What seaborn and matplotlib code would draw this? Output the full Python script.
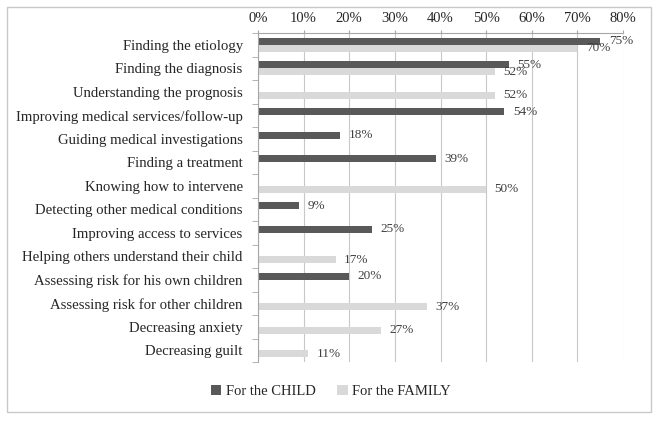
import numpy as np
import pandas as pd
import seaborn as sns
import matplotlib.pyplot as plt
from matplotlib.ticker import PercentFormatter, FixedLocator
from matplotlib.patches import Rectangle

categories = [
    "Finding the etiology",
    "Finding the diagnosis",
    "Understanding the prognosis",
    "Improving medical services/follow-up",
    "Guiding medical investigations",
    "Finding a treatment",
    "Knowing how to intervene",
    "Detecting other medical conditions",
    "Improving access to services",
    "Helping others understand their child",
    "Assessing risk for his own children",
    "Assessing risk for other children",
    "Decreasing anxiety",
    "Decreasing guilt",
]
child = [75, 55, None, 54, 18, 39, None, 9, 25, None, 20, None, None, None]
family = [70, 52, 52, None, None, None, 50, None, None, 17, None, 37, 27, 11]
series = ["For the CHILD", "For the FAMILY"]
colors = ["#595959", "#d9d9d9"]

df = pd.DataFrame({
    "category": categories * 2,
    "value": [0 if v is None else v for v in child + family],
    "group": [series[0]] * len(categories) + [series[1]] * len(categories),
})

sns.set_style("white")
plt.rcParams["font.family"] = ["Liberation Serif", "DejaVu Serif"]

fig = plt.figure(figsize=(6.58, 4.24), dpi=100)
ax = fig.add_axes([0.392, 0.146, 0.555, 0.776])

sns.barplot(data=df, y="category", x="value", hue="group", orient="h",
            palette=colors, width=0.6, ax=ax, saturation=1, legend=True,
            linewidth=0)

for cont, vals in zip(ax.containers, [child, family]):
    labels = ["" if v is None else f"{v}%" for v in vals]
    ax.bar_label(cont, labels=labels, padding=6, fontsize=9.5, color="#404040")

ax.set_xlim(0, 80)
ax.set_xticks(np.arange(0, 81, 10))
ax.xaxis.set_major_formatter(PercentFormatter(decimals=0))
ax.xaxis.tick_top()
ax.tick_params(axis="x", which="major", length=2, color="#a6a6a6", labelsize=10.5,
               pad=3.5, labelcolor="#262626")
ax.grid(axis="x", color="#c8c8c8", linewidth=0.8)
ax.set_axisbelow(True)
ax.set_xlabel("")
ax.set_ylabel("")

ax.tick_params(axis="y", which="major", length=0, labelsize=10.6, pad=11,
               labelcolor="#262626")
ax.yaxis.set_minor_locator(FixedLocator(np.arange(len(categories) + 1) - 0.5))
ax.tick_params(axis="y", which="minor", length=4, color="#a6a6a6", left=True)

for side in ["right", "bottom"]:
    ax.spines[side].set_visible(False)
for side in ["left", "top"]:
    ax.spines[side].set_color("#a6a6a6")
    ax.spines[side].set_linewidth(0.8)

ax.legend(loc="center", bbox_to_anchor=(0.2, -0.09),
          ncol=2, frameon=False, fontsize=10.5, handlelength=0.7, handleheight=0.7,
          handletextpad=0.3, columnspacing=1.5)

fig.patches.append(Rectangle((0.011, 0.028), 0.978, 0.955, transform=fig.transFigure,
                             fill=False, edgecolor="#c8c8c8", linewidth=1))

fig.savefig("out.png", dpi=100)
